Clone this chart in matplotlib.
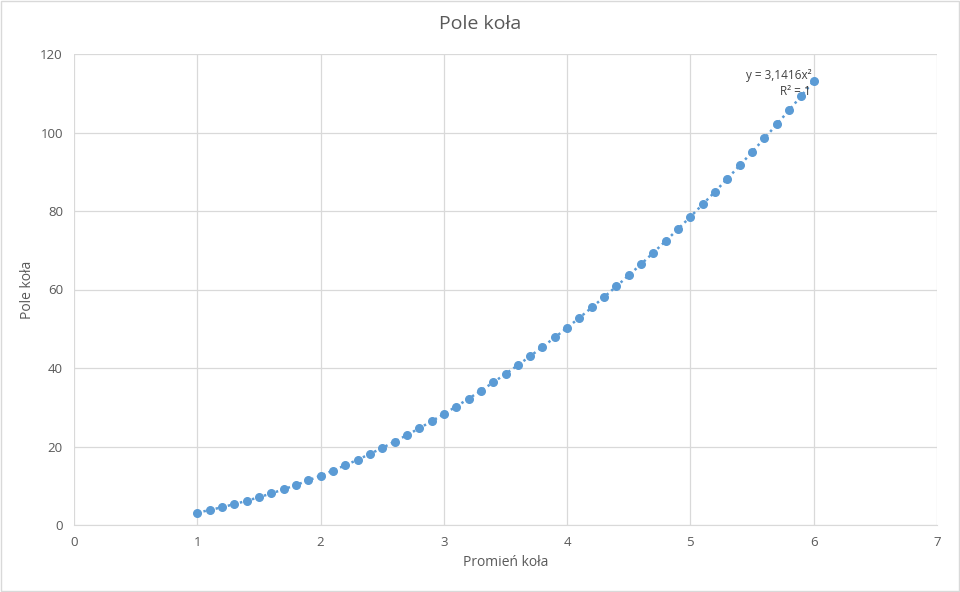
import matplotlib
matplotlib.use("Agg")
import matplotlib.pyplot as plt
import numpy as np

radius = [1.0,1.1,1.2,1.3,1.4,1.5,1.6,1.7,1.8,1.9,2.0,2.1,2.2,2.3,2.4,2.5,2.6,2.7,2.8,2.9,
          3.0,3.1,3.2,3.3,3.4,3.5,3.6,3.7,3.8,3.9,4.0,4.1,4.2,4.3,4.4,4.5,4.6,4.7,4.8,4.9,
          5.0,5.1,5.2,5.3,5.4,5.5,5.6,5.7,5.8,5.9,6.0]
area = [3.14,3.80,4.52,5.31,6.16,7.07,8.04,9.08,10.18,11.34,12.57,13.85,15.21,16.62,18.10,
        19.63,21.24,22.90,24.63,26.42,28.27,30.19,32.17,34.21,36.32,38.48,40.72,43.01,45.36,
        47.78,50.27,52.81,55.42,58.09,60.82,63.62,66.48,69.40,72.38,75.43,78.54,81.71,84.95,
        88.25,91.61,95.03,98.52,102.07,105.68,109.36,113.10]
coef = 3.1416

plt.rcParams['font.family'] = ['Open Sans', 'DejaVu Sans']
fig = plt.figure(figsize=(9.6, 5.92), dpi=100)
ax = fig.add_axes([74/960, 1-525/592, (937-74)/960, (525-54)/592])

x = np.array(radius)
ax.plot(x, coef*x**2, linestyle=(0, (1, 1.5)), color='#5B9BD5', lw=1.8, zorder=2)
ax.scatter(radius, area, s=30, color='#5B9BD5', zorder=3)

ax.set_xlim(0, 7)
ax.set_ylim(0, 120)
ax.set_xticks(range(0, 8))
ax.set_yticks(range(0, 121, 20))
ax.grid(True, color='#D9D9D9', lw=0.9)
ax.set_axisbelow(True)
for s in ['top', 'right', 'left']:
    ax.spines[s].set_visible(False)
ax.spines['bottom'].set_color('#D9D9D9')
ax.tick_params(length=0, colors='#595959', labelsize=9.5, pad=8)
ax.set_xlabel('Promień koła', color='#595959', fontsize=10)
ax.set_ylabel('Pole koła', color='#595959', fontsize=10)
fig.text(480/960, 1-24/592, 'Pole koła', ha='center', va='center', fontsize=14, color='#595959')
ax.text(5.98, 112.5, 'y = 3,1416x²\nR² = 1', ha='right', va='center', fontsize=8.5,
        color='#404040', multialignment='right', linespacing=1.3)

fig.patches.append(plt.Rectangle((1/960, 1/592), 958/960, 590/592, transform=fig.transFigure,
                                 fill=False, edgecolor='#D9D9D9', lw=1))
fig.savefig('out.png', dpi=100)
